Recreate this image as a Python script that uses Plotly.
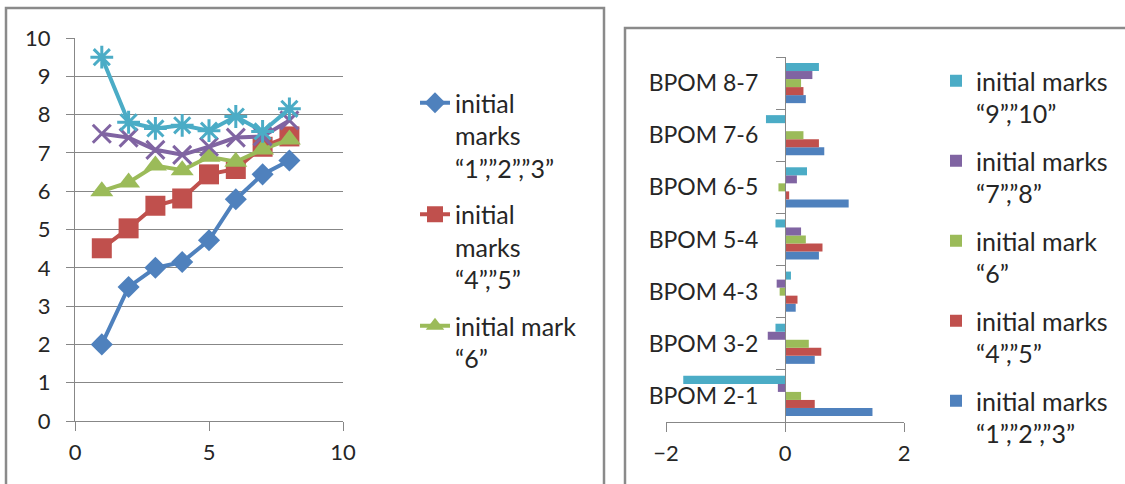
import plotly.graph_objects as go

# ---- left chart data ----
x_vals = [1, 2, 3, 4, 5, 6, 7, 8]
marks_123 = [2.0, 3.5, 4.0, 4.15, 4.72, 5.79, 6.44, 6.80]
marks_45 = [4.51, 5.03, 5.62, 5.81, 6.44, 6.58, 7.16, 7.43]
mark_6 = [6.0, 6.23, 6.67, 6.55, 6.90, 6.77, 7.09, 7.35]
marks_78 = [7.5, 7.4, 7.08, 6.95, 7.16, 7.4, 7.43, 7.85]
marks_910 = [9.5, 7.8, 7.64, 7.72, 7.58, 7.95, 7.56, 8.15]

# ---- right chart data ----
bpom_cats = ["BPOM 2-1", "BPOM 3-2", "BPOM 4-3", "BPOM 5-4", "BPOM 6-5", "BPOM 7-6", "BPOM 8-7"]
bar_123 = [1.47, 0.50, 0.18, 0.57, 1.07, 0.66, 0.35]
bar_45 = [0.50, 0.61, 0.21, 0.63, 0.07, 0.57, 0.31]
bar_6 = [0.27, 0.40, -0.09, 0.35, -0.11, 0.31, 0.27]
bar_78 = [-0.12, -0.29, -0.14, 0.27, 0.20, 0.0, 0.46]
bar_910 = [-1.71, -0.16, 0.10, -0.16, 0.37, -0.32, 0.57]

left_ticks = [0, 5, 10]
right_ticks = [-2, 0, 2]

BLUE, RED, GREEN, PURPLE, CYAN = "#4F81BD", "#C0504D", "#9BBB59", "#8064A2", "#4BACC6"
GRID = "#878787"
FONT = "Lato"
TXT = "#262626"

W, H = 1125, 484
def px(v):
    return v / W
def py(v):
    return 1 - v / H

fig = go.Figure()

line_specs = [
    (marks_123, BLUE, "diamond", 17, "initial<br>marks<br>“1”,”2”,”3”", True),
    (marks_45, RED, "square", 20, "initial<br>marks<br>“4”,”5”", True),
    (mark_6, GREEN, "triangle-up", 20, "initial mark<br>“6”", True),
    (marks_78, PURPLE, "x-thin-open", 18, "initial marks “7”,”8”", False),
    (marks_910, CYAN, "asterisk-open", 19, "initial marks “9”,”10”", False),
]
for i, (vals, col, sym, size, name, show) in enumerate(line_specs):
    open_sym = sym.endswith("open")
    fig.add_trace(go.Scatter(
        x=x_vals, y=vals, mode="lines+markers", name=name,
        line=dict(color=col, width=4),
        marker=dict(symbol=sym, size=size, color=col,
                    line=dict(color=col, width=3 if open_sym else 0)),
        showlegend=show, legend="legend", legendgroup="g%d" % i,
        xaxis="x", yaxis="y",
    ))

bar_specs = [
    (bar_123, BLUE, "initial marks<br>“1”,”2”,”3”"),
    (bar_45, RED, "initial marks<br>“4”,”5”"),
    (bar_6, GREEN, "initial mark<br>“6”"),
    (bar_78, PURPLE, "initial marks<br>“7”,”8”"),
    (bar_910, CYAN, "initial marks<br>“9”,”10”"),
]
for i, (vals, col, name) in enumerate(bar_specs):
    fig.add_trace(go.Bar(
        x=vals, y=bpom_cats, orientation="h", name=name,
        marker=dict(color=col, line=dict(width=0)),
        legend="legend2", legendgroup="b%d" % i, legendrank=10 - i,
        xaxis="x2", yaxis="y2",
    ))

axis_common = dict(
    showline=True, linecolor=GRID, linewidth=1.3,
    ticks="outside", tickcolor=GRID, tickwidth=1.3, automargin=False,
    zeroline=False,
)
tf22 = dict(family=FONT, size=22, color=TXT)
tf23 = dict(family=FONT, size=23, color=TXT)

fig.update_layout(
    width=W, height=H, autosize=False,
    margin=dict(l=0, r=0, t=0, b=0, pad=0, autoexpand=False),
    paper_bgcolor="white", plot_bgcolor="white",
    font=dict(family=FONT, size=22, color=TXT),
    barmode="group", bargap=0.23, bargroupgap=0,
    xaxis=dict(domain=[px(75), px(343)], range=[0, 10], tickvals=left_ticks,
               showgrid=False, ticklen=9, anchor="y", ticklabelstandoff=2,
               tickfont=tf22, **axis_common),
    yaxis=dict(domain=[py(421), py(38)], range=[0, 10], dtick=1,
               showgrid=True, gridcolor=GRID, gridwidth=1.3, ticklen=8,
               anchor="x", ticklabelstandoff=11, tickfont=tf22, **axis_common),
    xaxis2=dict(domain=[px(666), px(904)], range=[-2, 2], tickvals=right_ticks,
                showgrid=True, gridcolor=GRID, gridwidth=1.3, ticklen=9,
                anchor="y2", ticklabelstandoff=2, tickfont=tf22, **axis_common),
    yaxis2=dict(domain=[py(422), py(57)], anchor="free", position=px(785),
                type="category", categoryorder="array", categoryarray=bpom_cats,
                tickson="boundaries", ticklen=9, showgrid=False,
                ticklabelstandoff=22, tickfont=tf23, **axis_common),
    legend=dict(x=px(415), y=py(80), xanchor="left", yanchor="top",
                valign="top", tracegroupgap=11, bgcolor="rgba(0,0,0,0)",
                font=dict(family=FONT, size=25, color=TXT)),
    legend2=dict(x=px(936), y=py(58), xanchor="left", yanchor="top",
                 valign="top", tracegroupgap=12, traceorder="grouped",
                 bgcolor="rgba(0,0,0,0)", itemwidth=30,
                 font=dict(family=FONT, size=25, color=TXT)),
    shapes=[
        dict(type="rect", xref="paper", yref="paper", x0=px(6), x1=px(604),
             y0=-0.2, y1=py(8), line=dict(color="#8a8a8a", width=2.5)),
        dict(type="rect", xref="paper", yref="paper", x0=px(625), x1=1.2,
             y0=-0.2, y1=py(28), line=dict(color="#8a8a8a", width=2.5)),
    ],
)

fig.write_html("out.html", config={"displayModeBar": False},
               post_script="document.body.style.margin='0';")
